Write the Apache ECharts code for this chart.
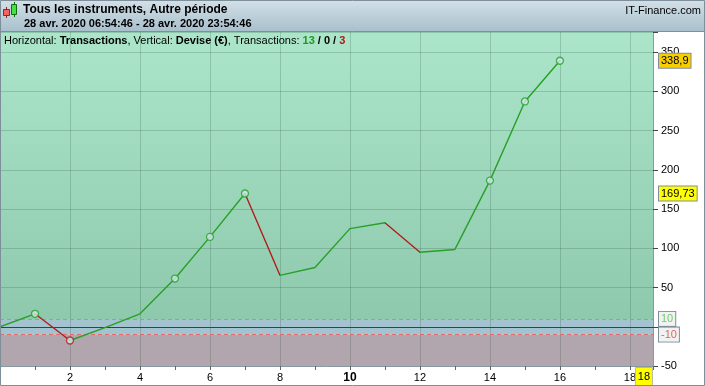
<!DOCTYPE html>
<html><head><meta charset="utf-8">
<script src="https://cdn.jsdelivr.net/npm/echarts@6/dist/echarts.min.js"></script>
<style>html,body{margin:0;padding:0;background:#fff}#c{width:705px;height:386px}</style>
</head><body><div id="c"></div>
<script>
// ---- data ----
const tradeNo = [0,1,2,3,4,5,6,7,8,9,10,11,12,13,14,15,16];
const equity  = [0,16.5,-17.5,-1,16.5,61.4,114.5,169.73,65.5,75.5,125,132.5,95,98.5,186.2,287,338.9];
const yMin = -50, yMax = 375.5, yStep = 50;
const xMin = 0, xMax = 18.66, xStep = 2;
const upperThreshold = 10, lowerThreshold = -10;
const markedLevels = [338.9, 169.73];
const cursorTrade = 18;
const winCount = 13, flatCount = 0, lossCount = 3;
const titleText = 'Tous les instruments, Autre période';
const periodText = '28 avr. 2020 06:54:46 - 28 avr. 2020 23:54:46';
const brandText = 'IT-Finance.com';

const FONT = 'Liberation Sans';
const GREEN = '#26a026', RED = '#b31c1c';
const fmt = v => String(v).replace('.', ',');

// segments where equity decreased -> red
const redPieces = [];
for (let i = 1; i < equity.length; i++) {
  if (equity[i] < equity[i-1]) redPieces.push({gt: tradeNo[i-1], lte: tradeNo[i], color: RED});
}
// circles on new running highs / lows
const markers = [];
let hi = equity[0], lo = equity[0];
for (let i = 1; i < equity.length; i++) {
  if (equity[i] > hi) { hi = equity[i]; markers.push({value:[tradeNo[i], equity[i]], itemStyle:{borderColor: GREEN}}); }
  else if (equity[i] < lo) { lo = equity[i]; markers.push({value:[tradeNo[i], equity[i]], itemStyle:{borderColor: RED}}); }
}

const chart = echarts.init(document.getElementById('c'));
const boxLabel = (text, bg, color) => ({
  show: true, position: 'end', distance: 6, formatter: text,
  backgroundColor: bg, borderColor: '#7f8f9a', borderWidth: 1,
  padding: [2, 2, 1, 2], color: color, fontSize: 11, fontFamily: FONT
});

chart.setOption({
  animation: false,
  grid: {left: 0, right: 52, top: 32, bottom: 20, show: false},
  xAxis: {
    type: 'value', min: xMin, max: xMax, interval: xStep, z: 2,
    axisLine: {show: true, onZero: false, lineStyle: {color: '#8a98a2'}},
    axisTick: {show: true, length: 4, lineStyle: {color: '#666'}},
    minorTick: {show: true, splitNumber: 2, length: 4, lineStyle: {color: '#666'}},
    splitLine: {show: true, lineStyle: {color: 'rgba(40,80,60,0.22)'}},
    axisLabel: {
      margin: 6, color: '#000', fontSize: 11, fontFamily: FONT,
      showMinLabel: false, showMaxLabel: false,
      formatter: v => (v % 1 !== 0 || v === 0) ? '' : (v === 10 ? '{b|10}' : String(v)),
      rich: {b: {fontWeight: 'bold', fontSize: 12, fontFamily: FONT, color: '#000'}}
    }
  },
  yAxis: {
    type: 'value', position: 'right', min: yMin, max: yMax, interval: yStep, z: 2,
    axisLine: {show: true, onZero: false, lineStyle: {color: '#8a98a2'}},
    axisTick: {show: true, length: 5, lineStyle: {color: '#444'}},
    splitLine: {show: true, lineStyle: {color: 'rgba(40,80,60,0.22)'}},
    axisLabel: {
      margin: 8, color: '#000', fontSize: 11, fontFamily: FONT,
      formatter: v => (v === 0 || v > 350) ? '' : String(v)
    }
  },
  visualMap: {
    type: 'piecewise', show: false, seriesIndex: 0, dimension: 0,
    pieces: redPieces, outOfRange: {color: GREEN}
  },
  series: [
    {
      type: 'line', z: 5, showSymbol: false, silent: true,
      data: tradeNo.map((x, i) => [x, equity[i]]),
      lineStyle: {width: 1.4}
    },
    {
      type: 'scatter', z: 6, silent: true, symbol: 'circle', symbolSize: 7,
      itemStyle: {color: '#cfe6ea', borderWidth: 1.3},
      data: markers
    },
    {
      type: 'line', z: 1, silent: true, data: [],
      markArea: {silent: true, data: [
        [{yAxis: upperThreshold, itemStyle: {color: new echarts.graphic.LinearGradient(0,0,0,1,[{offset:0,color:'#abe6ca'},{offset:1,color:'#8ec9ad'}])}}, {yAxis: yMax}],
        [{yAxis: lowerThreshold, itemStyle: {color: '#a3c3cf'}}, {yAxis: upperThreshold}],
        [{yAxis: yMin, itemStyle: {color: '#b1a6ae'}}, {yAxis: lowerThreshold}]
      ]}
    },
    {
      type: 'line', z: 4, silent: true, data: [],
      markLine: {silent: true, symbol: 'none', data: [
        {yAxis: upperThreshold, lineStyle: {color: '#5fc85f', type: [4, 3], width: 1}, label: boxLabel(fmt(upperThreshold), '#f2f2f2', '#6cd06c')},
        {yAxis: lowerThreshold, lineStyle: {color: '#e06a6a', type: [4, 3], width: 1}, label: boxLabel(fmt(lowerThreshold), '#f2f2f2', '#e06464')},
        {yAxis: 0, lineStyle: {color: '#2038b8', type: 'solid', width: 1.2}, label: {show: false}},
        {yAxis: markedLevels[0], lineStyle: {color: 'rgba(0,0,0,0)'}, label: boxLabel(fmt(markedLevels[0]), '#f7cf00', '#000')},
        {yAxis: markedLevels[1], lineStyle: {color: 'rgba(0,0,0,0)'}, label: boxLabel(fmt(markedLevels[1]), '#ffff00', '#000')}
      ]}
    }
  ]
});

const cx = chart.convertToPixel({xAxisIndex: 0}, cursorTrade);
chart.setOption({
  graphic: [
    {type: 'rect', z: 100, shape: {x: 0, y: 0, width: 705, height: 32},
     style: {fill: new echarts.graphic.LinearGradient(0,0,0,1,[{offset:0,color:'#d3e0e8'},{offset:1,color:'#a7bfcc'}])}},
    {type: 'line', z: 101, shape: {x1: 0, y1: 31.5, x2: 705, y2: 31.5}, style: {stroke: '#7f8f9a', lineWidth: 1}},
    // icon
    {type: 'line', z: 101, shape: {x1: 6.5, y1: 7, x2: 6.5, y2: 18}, style: {stroke: '#a02020', lineWidth: 1}},
    {type: 'rect', z: 102, shape: {x: 3.5, y: 9.5, width: 6, height: 6}, style: {fill: '#f06464', stroke: '#a02020', lineWidth: 1}},
    {type: 'line', z: 101, shape: {x1: 14.5, y1: 2, x2: 14.5, y2: 17}, style: {stroke: '#107010', lineWidth: 1}},
    {type: 'rect', z: 102, shape: {x: 11.5, y: 4.5, width: 5, height: 10}, style: {fill: '#46e046', stroke: '#107010', lineWidth: 1}},
    {type: 'text', z: 102, x: 23, y: 10, style: {text: titleText, font: 'bold 12px "Liberation Sans"', fill: '#000', verticalAlign: 'middle'}},
    {type: 'text', z: 102, x: 24, y: 24, style: {text: periodText, font: 'bold 11px "Liberation Sans"', fill: '#000', verticalAlign: 'middle'}},
    {type: 'text', z: 102, x: 701, y: 11, style: {text: brandText, font: '11px "Liberation Sans"', fill: '#000', align: 'right', verticalAlign: 'middle'}},
    {type: 'text', z: 102, x: 4, y: 41, style: {
      text: 'Horizontal: {b|Transactions}, Vertical: {b|Devise (€)}, Transactions: {g|' + winCount + '}{b| / ' + flatCount + ' / }{r|' + lossCount + '}',
      font: '11px "Liberation Sans"', fill: '#000', verticalAlign: 'middle',
      rich: {
        b: {fontWeight: 'bold', fontSize: 11, fontFamily: FONT, fill: '#000'},
        g: {fontWeight: 'bold', fontSize: 11, fontFamily: FONT, fill: '#1e9a1e'},
        r: {fontWeight: 'bold', fontSize: 11, fontFamily: FONT, fill: '#b01818'}
      }
    }},
    {type: 'rect', z: 103, shape: {x: cx + 5.5, y: 367.5, width: 17, height: 18}, style: {fill: '#ffff00', stroke: '#b8b8a0', lineWidth: 1}},
    {type: 'text', z: 104, x: cx + 14, y: 377, style: {text: String(cursorTrade), font: '11px "Liberation Sans"', fill: '#000', align: 'center', verticalAlign: 'middle'}},
    {type: 'rect', z: 105, shape: {x: 0.5, y: 0.5, width: 704, height: 385}, style: {fill: 'none', stroke: '#7f8f9a', lineWidth: 1}}
  ]
});
</script>
</body></html>
